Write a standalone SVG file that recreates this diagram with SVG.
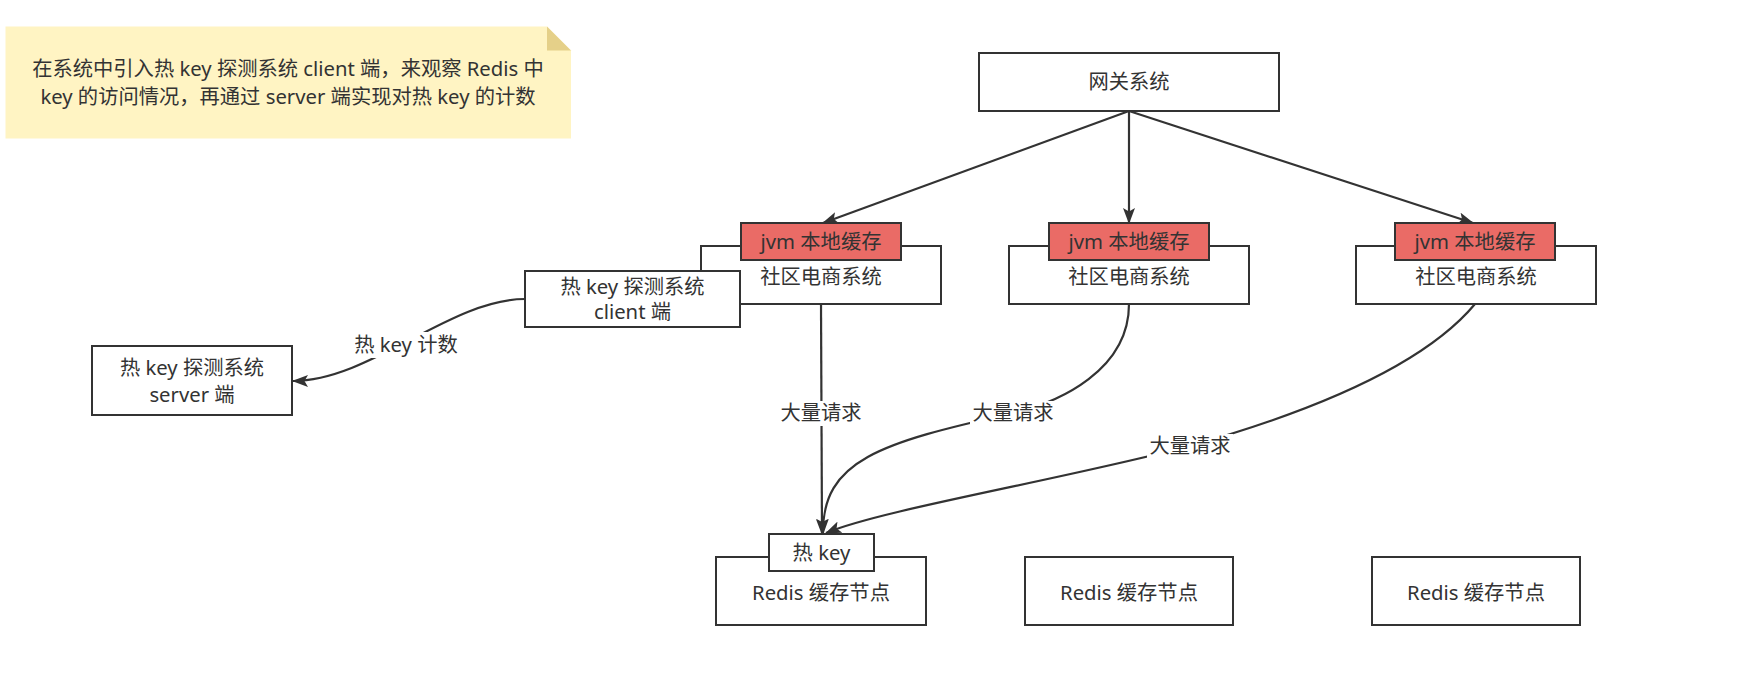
<svg xmlns="http://www.w3.org/2000/svg" width="1739" height="675" viewBox="0 0 1739 675">
<style>
text{font-family:"Noto Sans","Noto Sans CJK SC",sans-serif;font-size:20.3px;fill:#333;text-anchor:middle}
.box{fill:#fff;stroke:#333;stroke-width:2}
.jvm{fill:#ea6b66;stroke:#333;stroke-width:2}
.edge{fill:none;stroke:#333;stroke-width:2.2}
.lbg{fill:#fff}
</style>
<defs>
<marker id="arr" viewBox="0 0 16 12" refX="15" refY="6" markerWidth="16" markerHeight="12" markerUnits="userSpaceOnUse" orient="auto">
<path d="M0,0 L16,6 L0,12 L3.5,6 Z" fill="#333"/>
</marker>
</defs>
<rect width="1739" height="675" fill="#fff"/>

<g id="note">
<path d="M5.5,26.5 L547,26.5 L571,50.5 L571,138.5 L5.5,138.5 Z" fill="#fff4c3"/>
<path d="M547,26.5 L571,50.5 L547,50.5 Z" fill="#e5d089"/>
<text x="288" y="76">在系统中引入热 key 探测系统 client 端，来观察 Redis 中</text>
<text x="288" y="104">key 的访问情况，再通过 server 端实现对热 key 的计数</text>
</g>

<g id="gateway">
<rect class="box" x="979" y="53" width="300" height="58"/>
<text x="1129" y="89">网关系统</text>
</g>

<g id="community1">
<rect class="box" x="701" y="246" width="240" height="58"/>
<text x="821" y="284">社区电商系统</text>
</g>
<g id="jvm1">
<rect class="jvm" x="741" y="223" width="160" height="37"/>
<text x="821" y="249">jvm 本地缓存</text>
</g>

<g id="community2">
<rect class="box" x="1009" y="246" width="240" height="58"/>
<text x="1129" y="284">社区电商系统</text>
</g>
<g id="jvm2">
<rect class="jvm" x="1049" y="223" width="160" height="37"/>
<text x="1129" y="249">jvm 本地缓存</text>
</g>

<g id="community3">
<rect class="box" x="1356" y="246" width="240" height="58"/>
<text x="1476" y="284">社区电商系统</text>
</g>
<g id="jvm3">
<rect class="jvm" x="1395" y="223" width="160" height="37"/>
<text x="1475" y="249">jvm 本地缓存</text>
</g>

<g id="client">
<rect class="box" x="525" y="271" width="215" height="56"/>
<text x="632.5" y="294">热 key 探测系统</text>
<text x="632.5" y="319">client 端</text>
</g>

<g id="server">
<rect class="box" x="92" y="346" width="200" height="69"/>
<text x="192" y="375">热 key 探测系统</text>
<text x="192" y="402">server 端</text>
</g>

<g id="redis1">
<rect class="box" x="716" y="557" width="210" height="68"/>
<text x="821" y="600">Redis 缓存节点</text>
</g>
<g id="hotkey">
<rect class="box" x="769" y="534" width="105" height="37"/>
<text x="821.5" y="560">热 key</text>
</g>
<g id="redis2">
<rect class="box" x="1025" y="557" width="208" height="68"/>
<text x="1129" y="600">Redis 缓存节点</text>
</g>
<g id="redis3">
<rect class="box" x="1372" y="557" width="208" height="68"/>
<text x="1476" y="600">Redis 缓存节点</text>
</g>

<g id="connectors">
<path class="edge" d="M1129,111 L823,223" marker-end="url(#arr)"/>
<path class="edge" d="M1129,111 L1129,223" marker-end="url(#arr)"/>
<path class="edge" d="M1129,111 L1473,223" marker-end="url(#arr)"/>

<path class="edge" d="M525,299 C450,299 370,381 293,381" marker-end="url(#arr)"/>
<rect class="lbg" x="352" y="332" width="108" height="26"/>
<text x="406" y="352">热 key 计数</text>

<path class="edge" d="M821,304 L822,534" marker-end="url(#arr)"/>
<rect class="lbg" x="779" y="401" width="86" height="25"/>
<text x="821" y="420">大量请求</text>

<path class="edge" d="M1129,304 C1129,370 1060,402 1013,413 C880,443 822,460 823,534" marker-end="url(#arr)"/>
<rect class="lbg" x="970" y="401" width="86" height="25"/>
<text x="1013" y="420">大量请求</text>

<path class="edge" d="M1475,304 C1420,370 1300,415 1190,446 C1060,480 880,510 826,533" marker-end="url(#arr)"/>
<rect class="lbg" x="1147" y="434" width="86" height="25"/>
<text x="1190" y="453">大量请求</text>
</g>
</svg>
